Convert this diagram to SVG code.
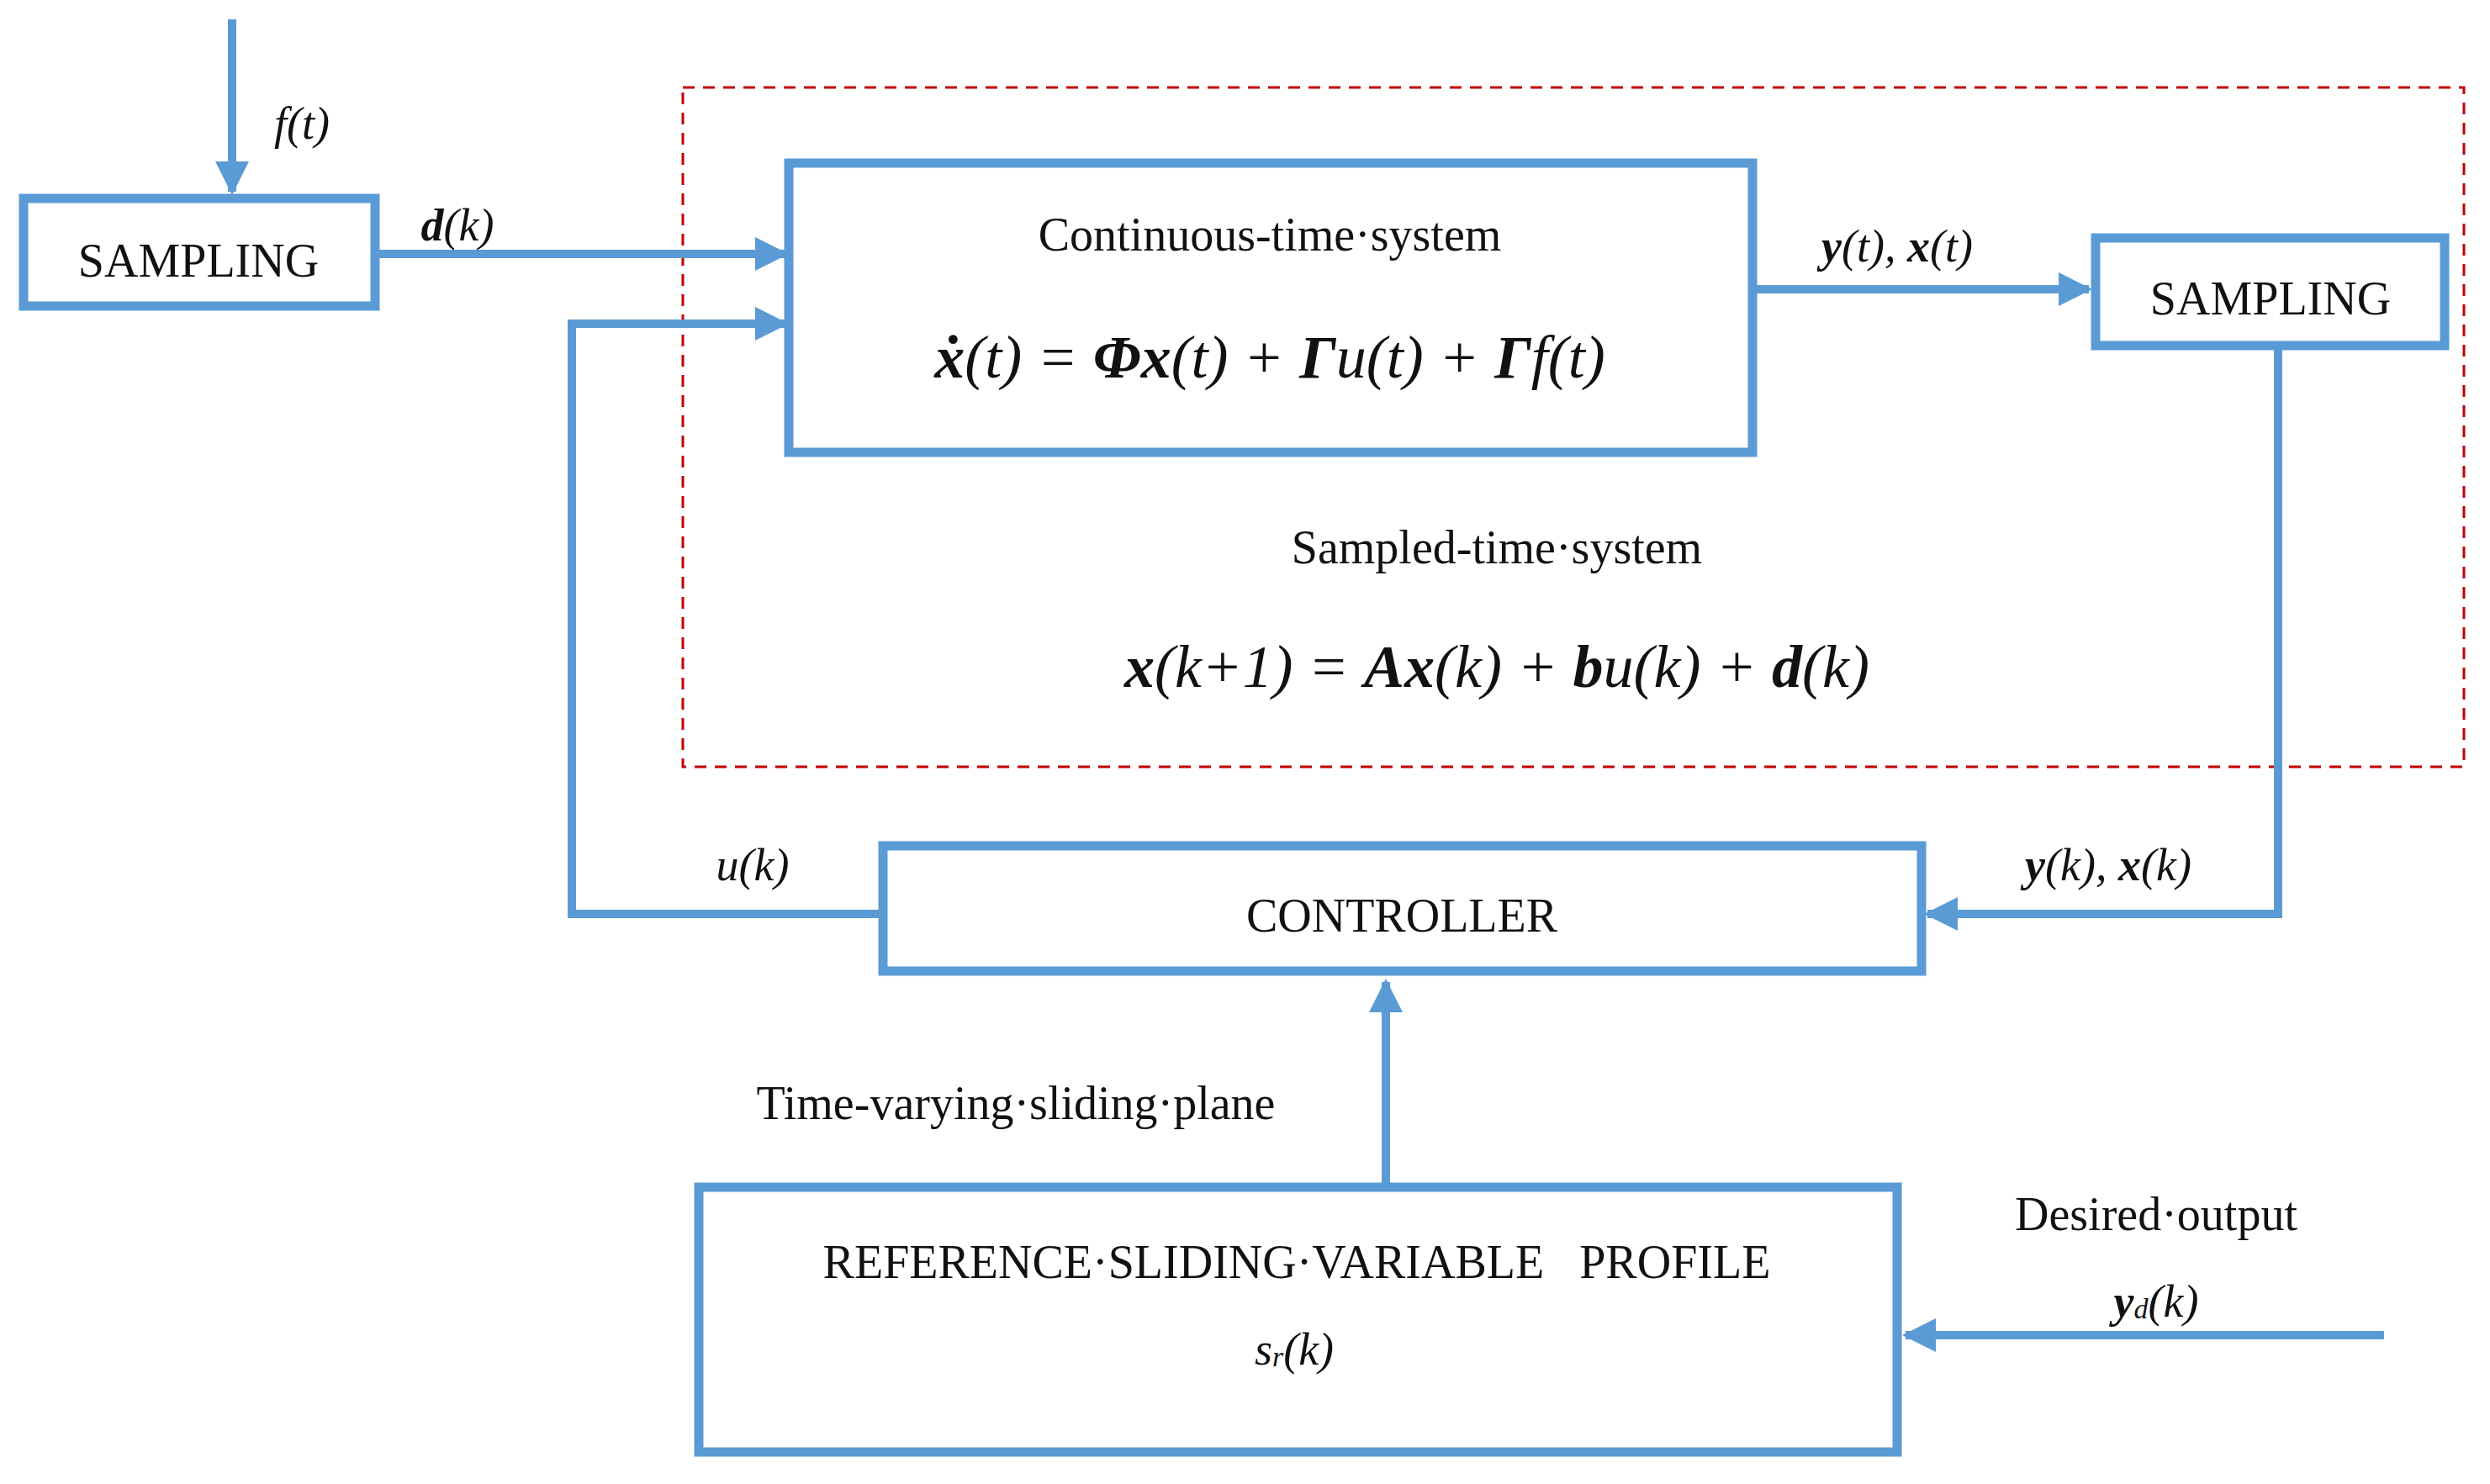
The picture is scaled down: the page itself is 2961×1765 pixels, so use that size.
<svg xmlns="http://www.w3.org/2000/svg" width="2961" height="1765" viewBox="0 0 2961 1765">
<style>
.box{fill:#fff;stroke:#5B9BD5;stroke-width:11}
.ln{fill:none;stroke:#5B9BD5;stroke-width:10}
.t{font-family:"Liberation Serif",serif;font-size:56px;fill:#111;text-anchor:middle;dominant-baseline:central}
.m{font-family:"Liberation Serif",serif;font-size:54px;font-style:italic;fill:#111;text-anchor:middle;dominant-baseline:central}
.eq{font-family:"Liberation Serif",serif;font-size:72px;font-style:italic;fill:#111;text-anchor:middle;dominant-baseline:central}
</style>
<defs>
<marker id="ah" viewBox="0 0 10 10" refX="9" refY="5" markerWidth="4" markerHeight="4" orient="auto" markerUnits="strokeWidth">
<path d="M0,0 L10,5 L0,10 z" fill="#5B9BD5"/>
</marker>
</defs>
<rect x="812" y="104" width="2118" height="808" fill="none" stroke="#C00000" stroke-width="3" stroke-dasharray="14,10"/>
<g id="connectors">
<line class="ln" x1="276" y1="23" x2="276" y2="228" marker-end="url(#ah)"/>
<line class="ln" x1="446" y1="302" x2="934" y2="302" marker-end="url(#ah)"/>
<polyline class="ln" points="1057,1087 680,1087 680,385 934,385" marker-end="url(#ah)"/>
<line class="ln" x1="2076" y1="344" x2="2484" y2="344" marker-end="url(#ah)"/>
<polyline class="ln" points="2709,411 2709,1087 2292,1087" marker-end="url(#ah)"/>
<line class="ln" x1="1648" y1="1412" x2="1648" y2="1168" marker-end="url(#ah)"/>
<line class="ln" x1="2835" y1="1588" x2="2266" y2="1588" marker-end="url(#ah)"/>
</g>
<g id="sampling1"><rect class="box" x="28" y="236" width="418" height="128"/><text class="t" x="236" y="310">SAMPLING</text></g>
<g id="continuous"><rect class="box" x="938" y="194" width="1146" height="344"/>
<text class="t" x="1510" y="279">Continuous-time·system</text>
<text class="eq" x="1510" y="425"><tspan font-weight="bold">ẋ</tspan>(t) = <tspan font-weight="bold">Φx</tspan>(t) + <tspan font-weight="bold">Γ</tspan>u(t) + <tspan font-weight="bold">Γ</tspan>f(t)</text></g>
<g id="sampling2"><rect class="box" x="2492" y="283" width="415" height="128"/><text class="t" x="2700" y="355">SAMPLING</text></g>
<g id="controller"><rect class="box" x="1050" y="1006" width="1235" height="149"/><text class="t" x="1667" y="1089">CONTROLLER</text></g>
<g id="reference"><rect class="box" x="831" y="1412" width="1425" height="315"/>
<text class="t" x="1542" y="1501" xml:space="preserve">REFERENCE·SLIDING·VARIABLE   PROFILE</text>
<text class="m" x="1539" y="1605">s<tspan font-size="34" dy="8">r</tspan><tspan dy="-8">(k)</tspan></text></g>
<g id="labels">
<text class="m" x="359" y="147">f(t)</text>
<text class="m" x="544" y="268"><tspan font-weight="bold">d</tspan>(k)</text>
<text class="m" x="2256" y="293"><tspan font-weight="bold">y</tspan>(t), <tspan font-weight="bold">x</tspan>(t)</text>
<text class="m" x="2507" y="1029"><tspan font-weight="bold">y</tspan>(k), <tspan font-weight="bold">x</tspan>(k)</text>
<text class="m" x="895" y="1029">u(k)</text>
<text class="t" x="1208" y="1312">Time-varying·sliding·plane</text>
<text class="t" x="2564" y="1444">Desired·output</text>
<text class="m" x="2564" y="1548"><tspan font-weight="bold">y</tspan><tspan font-size="34" dy="8">d</tspan><tspan dy="-8">(k)</tspan></text>
<text class="t" x="1780" y="651">Sampled-time·system</text>
<text class="eq" x="1780" y="793"><tspan font-weight="bold">x</tspan>(k+1) = <tspan font-weight="bold">Ax</tspan>(k) + <tspan font-weight="bold">b</tspan>u(k) + <tspan font-weight="bold">d</tspan>(k)</text>
</g>
</svg>
